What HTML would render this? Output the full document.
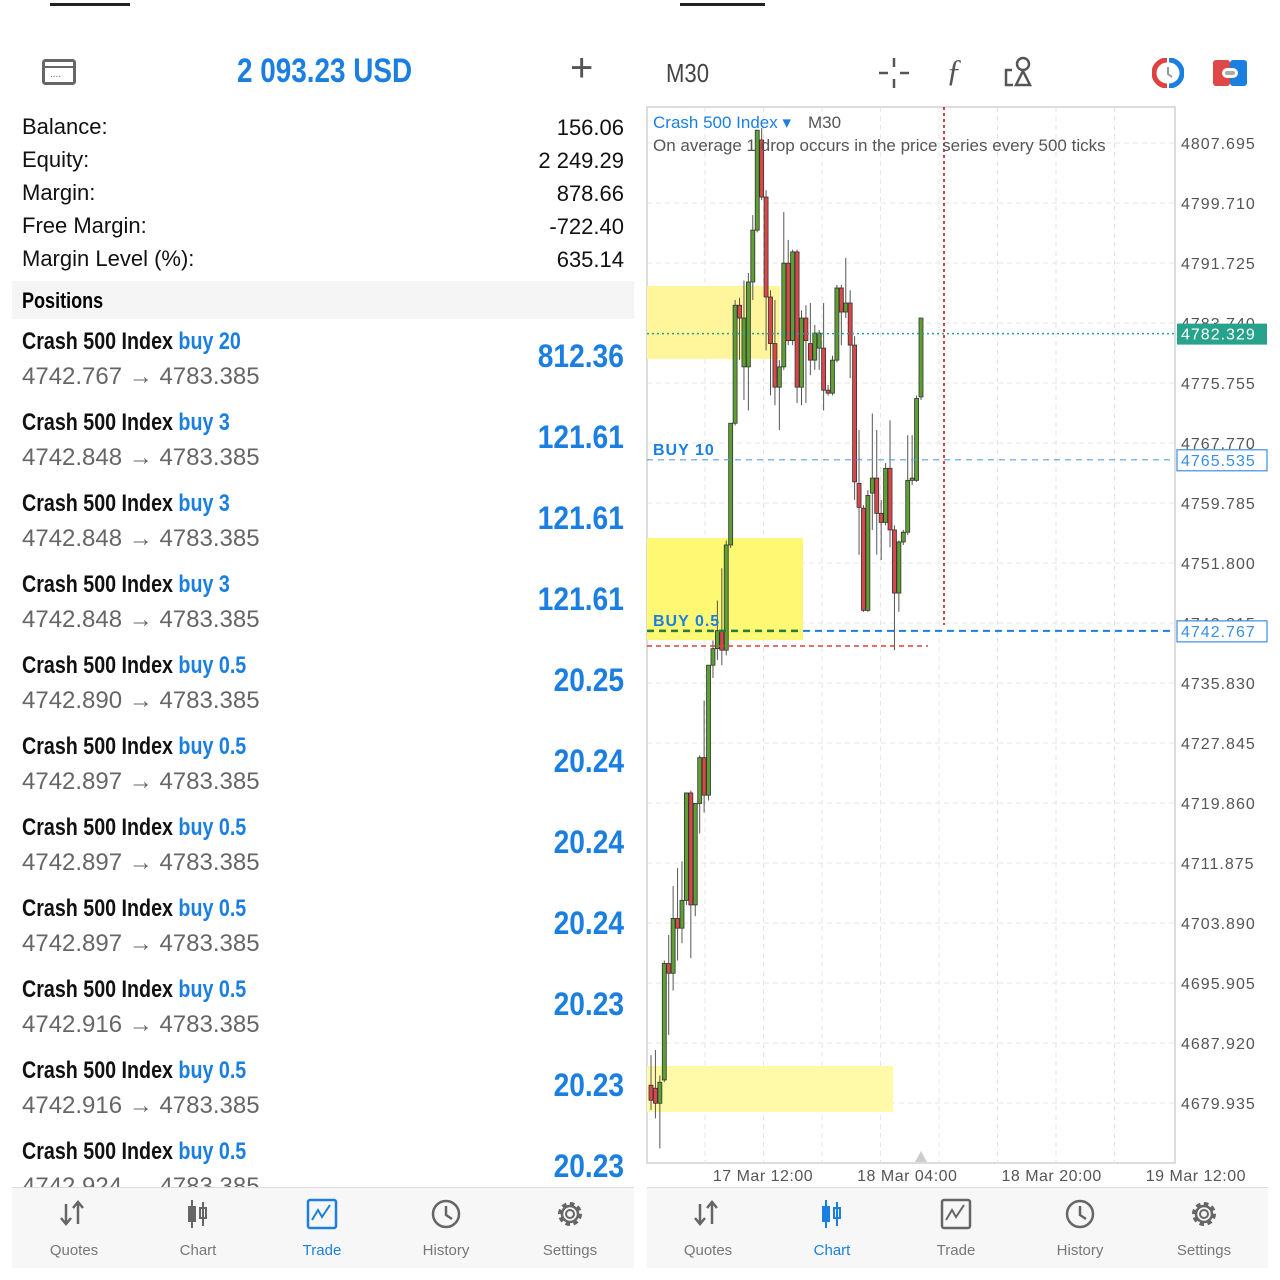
<!DOCTYPE html>
<html><head><meta charset="utf-8">
<style>
*{margin:0;padding:0;box-sizing:border-box}
body{width:1280px;height:1280px;background:#fff;position:relative;overflow:hidden;font-family:"Liberation Sans",sans-serif}
.abs{position:absolute}
.lbl{left:22px;font-size:22px;color:#111}
.val{right:656px;font-size:22px;color:#111;text-align:right}
.row-t{left:22px;font-size:24px;font-weight:bold;color:#111;white-space:nowrap;transform:scaleX(.82);transform-origin:left center}
.row-t span{color:#1a7fe0}
.row-p{left:22px;font-size:24px;color:#666;white-space:nowrap}
.row-v{right:656px;font-size:32px;font-weight:bold;color:#1a7fe0;transform:scaleX(.88);transform-origin:right center}
.nav{font-size:15px;color:#777;text-align:center;width:100px}
</style></head><body>
<div class="abs" style="left:0;top:0;width:1280px;height:14px;overflow:hidden">
 <div class="abs" style="left:50px;top:-8px;width:80px;height:14px;border-bottom:3px solid #222"></div>
 <div class="abs" style="left:680px;top:-8px;width:85px;height:14px;border-bottom:3px solid #222"></div>
</div>
<svg class="abs" style="left:42px;top:59px" width="34" height="26"><rect x="1.5" y="1.5" width="31" height="23" rx="2" fill="none" stroke="#666" stroke-width="3"/><line x1="1" y1="8" x2="33" y2="8" stroke="#666" stroke-width="2"/><text x="8" y="18" font-size="10" fill="#666">....</text></svg>
<div class="abs" style="left:237px;top:52px;font-size:34px;font-weight:bold;color:#1a7fe0;transform:scaleX(.82);transform-origin:left top;white-space:nowrap">2 093.23 USD</div>
<div class="abs" style="left:570px;top:46px;font-size:40px;color:#555;font-weight:300">+</div>
<div class="abs lbl" style="top:114px">Balance:</div>
<div class="abs val" style="top:115px">156.06</div>
<div class="abs lbl" style="top:147px">Equity:</div>
<div class="abs val" style="top:148px">2 249.29</div>
<div class="abs lbl" style="top:180px">Margin:</div>
<div class="abs val" style="top:181px">878.66</div>
<div class="abs lbl" style="top:213px">Free Margin:</div>
<div class="abs val" style="top:214px">-722.40</div>
<div class="abs lbl" style="top:246px">Margin Level (%):</div>
<div class="abs val" style="top:247px">635.14</div>
<div class="abs" style="left:12px;top:281px;width:622px;height:38px;background:#f5f5f5"><div style="position:absolute;left:10px;top:7px;font-size:22px;font-weight:bold;transform:scaleX(.82);transform-origin:left top">Positions</div></div>
<div id="positions"></div>
<div class="abs" style="left:12px;top:1187px;width:622px;height:81px;background:#f7f7f7;border-top:1px solid #ddd"></div>
<div class="abs" style="left:666px;top:58px;font-size:26px;color:#444;transform:scaleX(.85);transform-origin:left top">M30</div>
<svg class="abs" style="left:878px;top:57px" width="32" height="32"><g stroke="#555" stroke-width="2.5"><line x1="16" y1="1" x2="16" y2="10"/><line x1="16" y1="22" x2="16" y2="31"/><line x1="1" y1="16" x2="10" y2="16"/><line x1="22" y1="16" x2="31" y2="16"/></g></svg>
<div class="abs" style="left:946px;top:52px;font-size:32px;font-style:italic;color:#555;font-family:'Liberation Serif',serif">ƒ</div>
<svg class="abs" style="left:1004px;top:56px" width="30" height="32"><g stroke="#555" stroke-width="2.5" fill="none"><circle cx="19" cy="8" r="6"/><path d="M12 29 L19 15 L26 29 Z"/><path d="M8 14 L2 14 L2 29 L9 29"/></g></svg>
<svg class="abs" style="left:1152px;top:58px" width="32" height="30"><path d="M15 2 A13 13 0 0 0 15 28" stroke="#e04040" stroke-width="5" fill="none"/><path d="M17 2 A13 13 0 0 1 17 28" stroke="#1a7fe0" stroke-width="5" fill="none"/><path d="M16 9 L16 16 L20 19" stroke="#999" stroke-width="2" fill="none"/></svg>
<svg class="abs" style="left:1213px;top:60px" width="34" height="26"><rect x="0" y="0" width="17" height="26" rx="3" fill="#e04848"/><rect x="17" y="0" width="17" height="26" rx="3" fill="#1a7fe0"/><rect x="9" y="8" width="16" height="10" rx="5" fill="#fff"/><rect x="12" y="11" width="10" height="4" rx="2" fill="#aaa"/></svg>
<svg id="chart" class="abs" style="left:0;top:0" width="1280" height="1280"></svg>
<div class="abs" style="left:647px;top:1187px;width:621px;height:81px;background:#f7f7f7;border-top:1px solid #ddd"></div>
<div id="navs"></div>
<script>
const posLots=["20","3","3","3","0.5","0.5","0.5","0.5","0.5","0.5","0.5"];
const posOpen=["4742.767","4742.848","4742.848","4742.848","4742.890","4742.897","4742.897","4742.897","4742.916","4742.916","4742.924"];
const posProfit=["812.36","121.61","121.61","121.61","20.25","20.24","20.24","20.24","20.23","20.23","20.23"];
const pc=document.getElementById('positions');
posLots.forEach((l,i)=>{
  const top=328+i*81;
  const t=document.createElement('div');t.className='abs row-t';t.style.top=top+'px';
  
  
  t.innerHTML='Crash 500 Index <span>buy '+l+'</span>';pc.appendChild(t);
  const p=document.createElement('div');p.className='abs row-p';p.style.top=(top+35)+'px';
  
  
  p.textContent=posOpen[i]+' → 4783.385';pc.appendChild(p);
  const v=document.createElement('div');v.className='abs row-v';v.style.top=(top+10)+'px';
  
  
  v.textContent=posProfit[i];pc.appendChild(v);
});
const navLabels=["Quotes","Chart","Trade","History","Settings"];
const navIcons=[
 '<path d="M8 6 L8 26 M3 20 L8 26 L13 20 M20 26 L20 4 M15 10 L20 4 L25 10" stroke="C" stroke-width="2.5" fill="none"/>',
 '<g fill="C" stroke="C" stroke-width="2"><line x1="10" y1="2" x2="10" y2="30"/><rect x="7" y="9" width="6" height="14"/><line x1="21" y1="4" x2="21" y2="28"/><rect x="18" y="10" width="6" height="10" fill="none"/></g>',
 '<rect x="2" y="2" width="28" height="28" rx="2" stroke="C" stroke-width="2.5" fill="none"/><path d="M6 22 L12 12 L16 19 L24 7" stroke="C" stroke-width="2" fill="none"/>',
 '<circle cx="16" cy="16" r="13" stroke="C" stroke-width="2.5" fill="none"/><path d="M16 8 L16 17 L22 21" stroke="C" stroke-width="2.5" fill="none"/>',
 '<circle cx="16" cy="16" r="9" stroke="C" stroke-width="6" stroke-dasharray="4 3" fill="none"/><circle cx="16" cy="16" r="8" stroke="C" stroke-width="2.5" fill="#f7f7f7"/><circle cx="16" cy="16" r="4" stroke="C" stroke-width="2" fill="none"/>'
];
const nv=document.getElementById('navs');
[[0,2],[647,1]].forEach(([ox,act])=>{
  navLabels.forEach((n,i)=>{
    const cx=(ox===0?74:708)+i*124;
    const col=i===act?'#1a7fe0':'#666';
    const d=document.createElement('div');d.className='abs nav';
    d.style.left=(cx-50)+'px';d.style.top='1198px';d.style.color=i===act?'#1a7fe0':'#777';
    
    
    d.innerHTML='<svg width="32" height="32" viewBox="0 0 32 32">'+navIcons[i].replace(/C/g,col)+'</svg><div style="margin-top:8px">'+n+'</div>';
    nv.appendChild(d);
  });
});
</script>
<script>
const opens=[4682.3,4681.9,4679.9,4683.0,4698.5,4697.2,4704.5,4703.2,4706.9,4721.2,4706.3,4719.8,4725.9,4720.9,4738.2,4740.4,4742.8,4740.2,4754.2,4770.4,4786.1,4777.9,4777.9,4789.2,4796.1,4808.1,4800.5,4787.2,4781.0,4775.2,4777.9,4791.7,4781.4,4793.2,4775.2,4784.4,4781.0,4778.8,4780.4,4780.4,4774.8,4774.4,4778.8,4788.4,4785.2,4786.4,4780.8,4762.4,4759.1,4745.5,4761.1,4763.1,4758.4,4757.2,4764.4,4756.2,4747.8,4754.6,4755.9,4762.8,4762.8,4773.9];
const highs=[4686.3,4687.0,4683.6,4698.9,4702.3,4708.8,4711.2,4712.1,4721.2,4721.5,4719.8,4726.2,4733.5,4738.2,4741.5,4746.8,4751.1,4754.8,4770.4,4786.8,4787.1,4789.4,4790.4,4798.1,4809.4,4809.7,4801.4,4788.1,4786.8,4778.8,4798.5,4794.8,4793.5,4793.5,4785.4,4786.1,4786.4,4783.5,4782.8,4786.4,4775.5,4779.4,4788.8,4788.8,4792.4,4788.1,4782.0,4769.5,4759.5,4761.5,4771.7,4769.5,4760.2,4765.1,4770.8,4756.8,4754.8,4756.2,4768.8,4768.8,4774.1,4784.4];
const lows=[4679.0,4677.9,4673.9,4682.7,4689.0,4694.9,4698.9,4701.2,4706.3,4699.2,4704.8,4715.8,4718.6,4720.2,4736.5,4738.9,4738.2,4739.5,4753.8,4770.1,4778.8,4773.5,4772.1,4786.8,4795.8,4800.1,4780.1,4774.1,4772.8,4769.5,4777.5,4780.8,4780.8,4773.1,4772.8,4773.1,4776.8,4777.5,4777.5,4772.1,4774.1,4774.1,4778.5,4780.8,4784.4,4776.4,4760.2,4752.9,4745.3,4745.3,4756.2,4752.9,4752.2,4756.8,4753.9,4740.2,4745.3,4754.2,4755.5,4762.2,4762.6,4773.5];
const closes=[4680.3,4679.9,4682.7,4698.5,4697.2,4704.5,4703.2,4706.9,4721.2,4706.3,4719.8,4725.9,4720.9,4738.2,4740.4,4742.8,4740.2,4754.2,4770.4,4786.1,4784.4,4784.4,4789.2,4796.1,4809.4,4800.5,4787.2,4781.0,4775.2,4777.9,4791.7,4781.4,4793.2,4775.2,4784.4,4781.4,4778.8,4782.4,4782.4,4774.8,4774.4,4778.8,4788.4,4785.2,4786.4,4780.8,4762.6,4759.2,4745.5,4760.8,4763.1,4758.4,4757.2,4764.4,4756.2,4747.8,4754.6,4755.9,4762.8,4763.1,4773.7,4784.4];
const priceTicks=["4807.695","4799.710","4791.725","4783.740","4775.755","4767.770","4759.785","4751.800","4743.815","4735.830","4727.845","4719.860","4711.875","4703.890","4695.905","4687.920","4679.935"];
const timeLabels=["17 Mar 12:00","18 Mar 04:00","18 Mar 20:00","19 Mar 12:00"];
const lastPrice=4782.329, buy10=4765.535, buyAvg=4742.767;
const PL=647,PR=1175,PT=107,PB=1163;
const yS=p=>143+(4807.695-p)/7.985*60;
const xS=i=>651+i*(270/61);
const svg=document.getElementById('chart');
const NS='http://www.w3.org/2000/svg';
function mk(tag,attrs,parent){const e=document.createElementNS(NS,tag);for(const k in attrs)e.setAttribute(k,attrs[k]);(parent||svg).appendChild(e);return e;}
const frame=mk('rect',{x:PL,y:PT,width:PR-PL,height:PB-PT,fill:'#fff',stroke:'#d0d0d0','stroke-width':1.5});


for(let k=0;k<8;k++){const gx=705+k*58.5;if(gx>PR)break;
 const g=mk('line',{x1:gx,y1:PT,x2:gx,y2:PB,stroke:'#e6e6e6','stroke-dasharray':'5 4'});
 
 }
priceTicks.forEach(t=>{const y=yS(+t);
 const g=mk('line',{x1:PL,y1:y,x2:PR,y2:y,stroke:'#e6e6e6','stroke-dasharray':'5 4'});
 
 
 const tx=mk('text',{x:1181,y:y+6,'font-size':16,fill:'#555','letter-spacing':'1'});tx.textContent=t;
 
 });
[[PL,286,133,73,'#fff59a'],[PL,538,156,102,'#fff872'],[PL,1066,246,46,'#fffaa8']].forEach(z=>{
 const r=mk('rect',{x:z[0],y:z[1],width:z[2],height:z[3],fill:z[4]});
 
 });
opens.forEach((o,i)=>{
 const c=closes[i],x=xS(i),up=c>=o;
 const w=mk('line',{x1:x,y1:yS(highs[i]),x2:x,y2:yS(lows[i]),stroke:'#555','stroke-width':1});
 
 
 const top=yS(Math.max(o,c)),h=Math.max(1.5,Math.abs(yS(o)-yS(c)));
 const b=mk('rect',{x:x-2,y:top,width:4,height:h,fill:up?'#5e9f33':'#d9474a',stroke:'#333','stroke-width':0.8});
 
 
});
const l1=mk('line',{x1:PL,y1:yS(lastPrice),x2:PR,y2:yS(lastPrice),stroke:'#2a9d8f','stroke-width':1.5,'stroke-dasharray':'2 3'});


const l2=mk('line',{x1:PL,y1:yS(buy10),x2:PR,y2:yS(buy10),stroke:'#5aa0e0','stroke-width':1.2,'stroke-dasharray':'6 5'});


const l3=mk('line',{x1:PL,y1:yS(buyAvg),x2:PR,y2:yS(buyAvg),stroke:'#1a7fe0','stroke-width':2,'stroke-dasharray':'7 5'});


const l4=mk('line',{x1:PL,y1:yS(buyAvg),x2:800,y2:yS(buyAvg),stroke:'#2a7a3a','stroke-width':2.5,'stroke-dasharray':'7 5'});


const l5=mk('line',{x1:PL,y1:646,x2:928,y2:646,stroke:'#e04040','stroke-width':1.5,'stroke-dasharray':'5 4'});


const l6=mk('line',{x1:944,y1:PT,x2:944,y2:625,stroke:'#e04040','stroke-width':2,'stroke-dasharray':'3 3'});


const tg=mk('rect',{x:1177,y:yS(lastPrice)-10,width:90,height:21,fill:'#26a38a'});


const tt=mk('text',{x:1181,y:yS(lastPrice)+6,'font-size':16,fill:'#fff','letter-spacing':'1'});tt.textContent=lastPrice.toFixed(3);


[[buy10,'buy10-tag'],[buyAvg,'buy-avg-tag']].forEach(([p,n])=>{
 const r=mk('rect',{x:1177,y:yS(p)-10,width:90,height:21,fill:'#fff',stroke:'#3a8ee6','stroke-width':1.2});
 
 
 const t=mk('text',{x:1181,y:yS(p)+6,'font-size':16,fill:'#3a8ee6','letter-spacing':'1'});t.textContent=p.toFixed(3);
 
 });
const b1=mk('text',{x:653,y:455,'font-size':16,'font-weight':'bold',fill:'#1a7fe0','letter-spacing':'1'});b1.textContent='BUY 10';


const b2=mk('text',{x:653,y:626,'font-size':16,'font-weight':'bold',fill:'#1a7fe0','letter-spacing':'1'});b2.textContent='BUY 0.5';


const t1=mk('text',{x:653,y:128,'font-size':17,fill:'#1a7fe0'});t1.textContent='Crash 500 Index ▾';


const t1b=mk('text',{x:808,y:128,'font-size':17,fill:'#555'});t1b.textContent='M30';


const t2=mk('text',{x:653,y:151,'font-size':17,fill:'#555'});t2.textContent='On average 1 drop occurs in the price series every 500 ticks';


timeLabels.forEach((l,i)=>{const cx=763+i*144.3;
 const t=mk('text',{x:cx,y:1181,'font-size':16,fill:'#555','text-anchor':'middle','letter-spacing':'0.5'});t.textContent=l;
 
 });
const tri=mk('path',{d:'M915 1162 L921 1151 L927 1162 Z',fill:'#ccc'});


</script>
</body></html>
